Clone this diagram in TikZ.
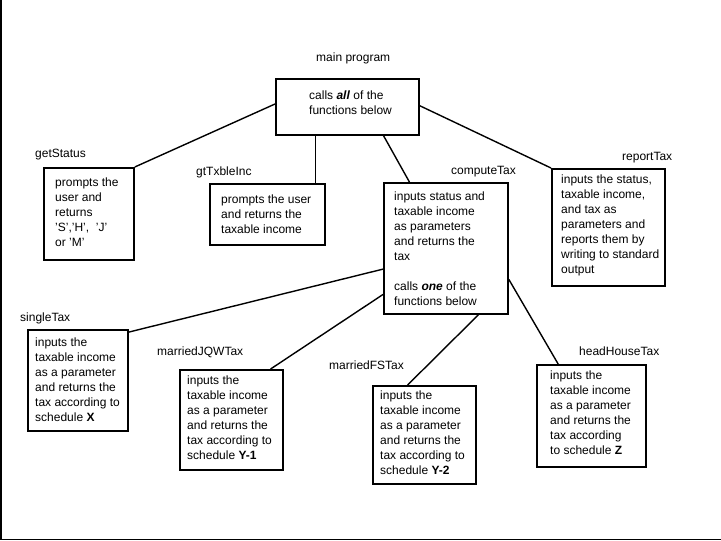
\documentclass[tikz,border=0pt]{standalone}
\usepackage{fontspec}
\setmainfont{Liberation Sans}
\usetikzlibrary{calc}
\begin{document}
\begin{tikzpicture}[x=1pt,y=-1pt,
  box/.style={draw, line width=1.8pt, rectangle, inner sep=0pt, anchor=north west},
  body/.style={inner sep=0pt, anchor=north west, align=left, font=\fontsize{12}{15}\selectfont},
  lbl/.style={inner sep=0pt, anchor=base west, font=\fontsize{12}{15}\selectfont},
  link/.style={line width=1.4pt}]
\useasboundingbox (0,0) rectangle (721,541);
\draw[line width=1.5pt] (0.75,0) -- (0.75,539.5) -- (721,539.5);
% boxes
\node[box, minimum width=143pt, minimum height=56pt]  (main)   at (275,78)  {};
\node[box, minimum width=90pt,  minimum height=92pt]  (status) at (43,167)  {};
\node[box, minimum width=115pt, minimum height=61pt]  (income) at (209,183) {};
\node[box, minimum width=124pt, minimum height=131pt] (comp)   at (383,182) {};
\node[box, minimum width=113pt, minimum height=117pt] (report) at (551,168) {};
\node[box, minimum width=100pt, minimum height=101pt] (single) at (27,329)  {};
\node[box, minimum width=103pt, minimum height=100pt] (jqw)    at (179,369) {};
\node[box, minimum width=103pt, minimum height=98pt]  (fs)     at (372,385) {};
\node[box, minimum width=109pt, minimum height=102pt] (hh)     at (536,364) {};
% labels
\node[lbl] (mainL)   at (316,61)  {main program};
\node[lbl] (statusL) at (35,157)  {getStatus};
\node[lbl] (incomeL) at (196,175) {gtTxbleInc};
\node[lbl] (compL)   at (451,174) {computeTax};
\node[lbl] (reportL) at (622,160) {reportTax};
\node[lbl] (singleL) at (20,321)  {singleTax};
\node[lbl] (jqwL)    at (157,355) {marriedJQWTax};
\node[lbl] (fsL)     at (329,369) {marriedFSTax};
\node[lbl] (hhL)     at (579,355) {headHouseTax};
% texts
\node[body] (mainT)   at (309,88.5)  {\strut calls \textbf{\textit{all}} of the\\functions below};
\node[body] (statusT) at (55,175.5)  {\strut prompts the\\user and\\returns\\’S’,’H’,\ \ ’J’\\or ’M’};
\node[body] (incomeT) at (221,192.5) {\strut prompts the user\\and returns the\\taxable income};
\node[body] (compT)   at (394,189.5) {\strut inputs status and\\taxable income\\as parameters\\and returns the\\tax\\[15pt]calls \textbf{\textit{one}} of the\\functions below};
\node[body] (reportT) at (561,172.5) {\strut inputs the status,\\taxable income,\\and tax as\\parameters and\\reports them by\\writing to standard\\output};
\node[body] (singleT) at (35,335.5)  {\strut inputs the\\taxable income\\as a parameter\\and returns the\\tax according to\\schedule \textbf{X}};
\node[body] (jqwT)    at (187,373.5) {\strut inputs the\\taxable income\\as a parameter\\and returns the\\tax according to\\schedule \textbf{Y-1}};
\node[body] (fsT)     at (380,388.5) {\strut inputs the\\taxable income\\as a parameter\\and returns the\\tax according to\\schedule \textbf{Y-2}};
\node[body] (hhT)     at (550,368.5) {\strut inputs the\\taxable income\\as a parameter\\and returns the\\tax according\\to schedule \textbf{Z}};
% connectors
\draw[link] ($(main.north west)!0.45!(main.south west)$) -- (status.north east);
\draw[link] ($(main.south west)!0.28!(main.south east)$) coordinate (m2) -- (m2 |- income.north);
\draw[link] ($(main.south west)!0.75!(main.south east)$) -- ($(comp.north west)!0.21!(comp.north east)$);
\draw[link] ($(main.north east)!0.48!(main.south east)$) -- (report.north west);
\draw[link] ($(comp.north west)!0.656!(comp.south west)$) -- ($(single.north east)!0.03!(single.south east)$);
\draw[link] ($(comp.north west)!0.847!(comp.south west)$) -- ($(jqw.north west)!0.874!(jqw.north east)$);
\draw[link] ($(comp.south west)!0.758!(comp.south east)$) -- ($(fs.north west)!0.34!(fs.north east)$);
\draw[link] ($(comp.north east)!0.733!(comp.south east)$) -- ($(hh.north west)!0.2!(hh.north east)$);
\end{tikzpicture}
\end{document}
